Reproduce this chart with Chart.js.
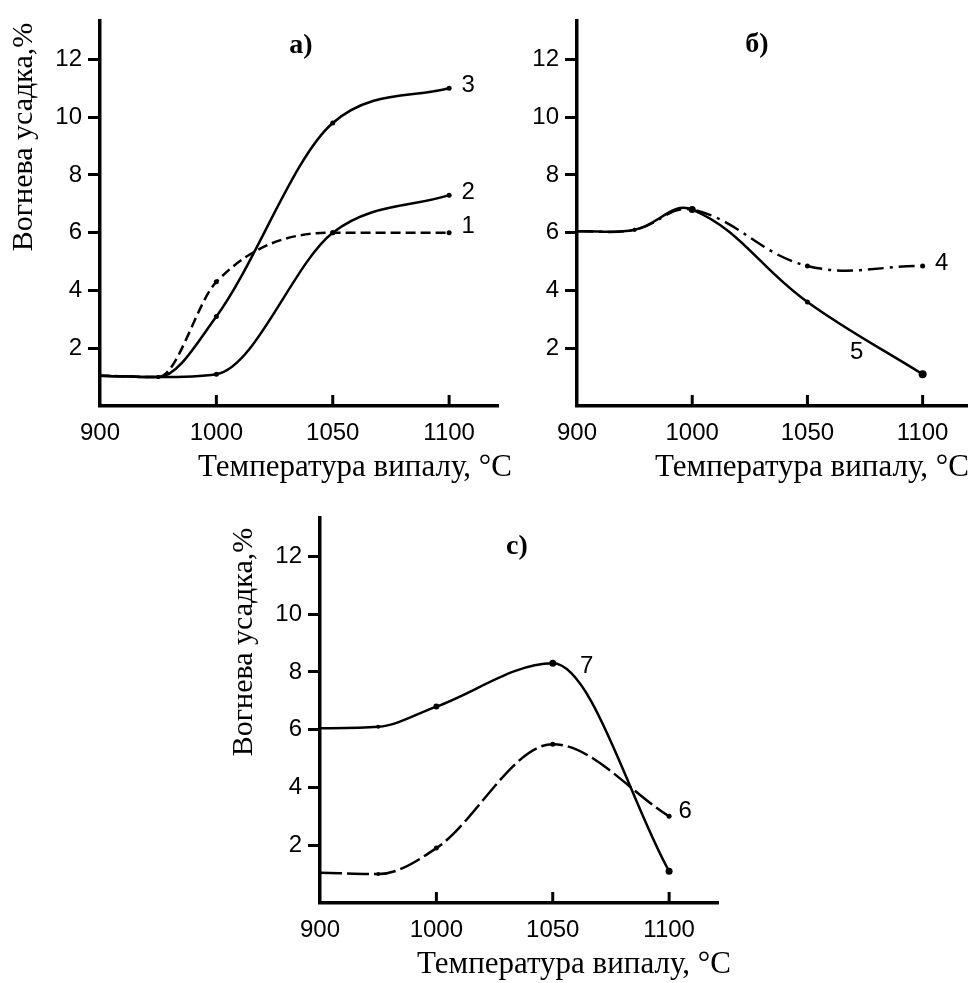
<!DOCTYPE html>
<html>
<head>
<meta charset="utf-8">
<script src="https://cdn.jsdelivr.net/npm/chart.js@4.4.0/dist/chart.umd.min.js"></script>
<style>
  html, body { margin: 0; padding: 0; background: #fff; }
  #page { position: relative; width: 971px; height: 983px; overflow: hidden; background: #fff; }
  canvas { position: absolute; }
</style>
</head>
<body>
<div id="page">
  <canvas id="chartA" width="530" height="490" style="left:0px;top:0px"></canvas>
  <canvas id="chartB" width="494" height="490" style="left:477px;top:0px"></canvas>
  <canvas id="chartC" width="530" height="490" style="left:220px;top:497px"></canvas>
</div>
<script>
// temperatures measured and where each one sits on the (broken) x axis
const temps = ['900', '950', '1000', '1050', '1100'];
const tempPos = [0, 0.5, 1, 2, 3];
const tickTemps = ['900', '1000', '1050', '1100'];
const tickPos = [0, 1, 2, 3];
const yTicks = [2, 4, 6, 8, 10, 12];

// fire shrinkage, %
const shrink1 = [1.05, 1.0, 4.3, 6.0, 6.0];
const shrink2 = [1.05, 1.0, 1.1, 6.0, 7.3];
const shrink3 = [1.05, 1.0, 3.1, 9.8, 11.0];
const shrink4 = [6.05, 6.1, 6.8, 4.85, 4.85];
const shrink5 = [6.05, 6.1, 6.8, 3.6, 1.1];
const shrink6 = [1.05, 1.0, 1.9, 5.5, 3.0];
const shrink7 = [6.05, 6.1, 6.8, 8.3, 1.1];

const xTitle = 'Температура випалу, °С';
const yTitle = 'Вогнева усадка,%';

const SANS = '"Liberation Sans", Arial, sans-serif';
const SERIF = '"Liberation Serif", "Times New Roman", serif';

function line(values, opts) {
  return Object.assign({
    data: values.map((v, i) => ({ x: tempPos[i], y: v })),
    borderColor: '#000',
    backgroundColor: '#000',
    borderWidth: 2.5,
    pointRadius: [0, 2, 2.5, 2.5, 2.5],
    pointBorderWidth: 0,
    tension: 0.4,
    fill: false
  }, opts);
}

function scales(xMax) {
  return {
    x: {
      type: 'linear', min: 0, max: xMax,
      afterBuildTicks: s => { s.ticks = tickPos.map(v => ({ value: v })); },
      afterFit: s => { s.height = 84; },
      grid: { drawOnChartArea: false, drawTicks: false },
      border: { display: true, color: '#000', width: 3.5 },
      ticks: {
        color: '#000', font: { family: SANS, size: 24 }, padding: 13,
        maxRotation: 0, autoSkip: false,
        callback: (v, i) => tickTemps[i]
      }
    },
    y: {
      min: 0, max: 13.35,
      afterBuildTicks: s => { s.ticks = yTicks.map(v => ({ value: v })); },
      afterFit: s => { s.width = 100; },
      grid: { drawOnChartArea: false, drawTicks: true, tickLength: 12, tickWidth: 3, tickColor: '#000' },
      border: { display: true, color: '#000', width: 3.5 },
      ticks: { color: '#000', font: { family: SANS, size: 24 }, padding: 6, callback: v => String(v) }
    }
  };
}

function panelText(cfg) {
  return {
    id: 'panelText',
    afterDraw(chart) {
      const ctx = chart.ctx;
      const area = chart.chartArea;
      ctx.save();
      ctx.fillStyle = '#000';

      // inward tick marks on the x axis
      const xs = chart.scales.x;
      ctx.strokeStyle = '#000';
      ctx.lineWidth = 3;
      tickPos.slice(1).forEach(v => {
        const px = xs.getPixelForValue(v);
        ctx.beginPath();
        ctx.moveTo(px, area.bottom);
        ctx.lineTo(px, area.bottom - 11);
        ctx.stroke();
      });

      ctx.font = 'bold 28px ' + SERIF;
      ctx.textAlign = 'center';
      ctx.textBaseline = 'middle';
      ctx.fillText(cfg.letter, cfg.letterX, cfg.letterY);

      ctx.font = '31px ' + SERIF;
      ctx.textAlign = 'left';
      ctx.textBaseline = 'alphabetic';
      ctx.fillText(xTitle, cfg.xTitleX, 476);

      if (cfg.yTitleY) {
        ctx.font = '30px ' + SERIF;
        ctx.save();
        ctx.translate(32, cfg.yTitleY);
        ctx.rotate(-Math.PI / 2);
        ctx.textAlign = 'center';
        ctx.fillText(yTitle, 0, 0);
        ctx.restore();
      }

      // curve numbers
      ctx.font = '24px ' + SANS;
      ctx.textAlign = 'center';
      ctx.textBaseline = 'middle';
      chart.data.datasets.forEach((ds, i) => {
        const lab = ds.curveLabel;
        if (!lab) return;
        const pt = chart.getDatasetMeta(i).data[lab.index];
        ctx.fillText(lab.text, pt.x + lab.dx, pt.y + lab.dy);
      });
      ctx.restore();
    }
  };
}

function makePanel(id, datasets, xMax, padRight, cfg) {
  return new Chart(document.getElementById(id), {
    type: 'line',
    data: { labels: temps, datasets: datasets },
    options: {
      responsive: false,
      animation: false,
      layout: { padding: { top: 8, right: padRight, left: 0, bottom: 0 } },
      plugins: { legend: { display: false }, tooltip: { enabled: false } },
      scales: scales(xMax)
    },
    plugins: [panelText(cfg)]
  });
}

makePanel('chartA', [
  line(shrink3, { cubicInterpolationMode: 'monotone', curveLabel: { text: '3', index: 4, dx: 19, dy: -3 } }),
  line(shrink2, { cubicInterpolationMode: 'monotone', curveLabel: { text: '2', index: 4, dx: 19, dy: -3 } }),
  line(shrink1, { borderDash: [10, 5], cubicInterpolationMode: 'monotone',
    curveLabel: { text: '1', index: 4, dx: 19, dy: -6 } })
], 3.42, 32, { letter: 'а)', letterX: 301, letterY: 46, xTitleX: 198, yTitleY: 137 });

makePanel('chartB', [
  line(shrink4, { borderDash: [16, 6, 3, 6], curveLabel: { text: '4', index: 4, dx: 19, dy: -3 } }),
  line(shrink5, { pointRadius: [0, 2, 3.5, 2.5, 4], curveLabel: { text: '5', index: 4, dx: -66, dy: -22 } })
], 3.385, 0, { letter: 'б)', letterX: 280, letterY: 45, xTitleX: 178 });

makePanel('chartC', [
  line(shrink7, { pointRadius: [0, 2, 3, 3.5, 3.5], cubicInterpolationMode: 'monotone',
    curveLabel: { text: '7', index: 3, dx: 34, dy: 3 } }),
  line(shrink6, { borderDash: [22, 5], cubicInterpolationMode: 'monotone',
    curveLabel: { text: '6', index: 4, dx: 16, dy: -5 } })
], 3.42, 32, { letter: 'с)', letterX: 297, letterY: 50, xTitleX: 197, yTitleY: 145 });
</script>
</body>
</html>
